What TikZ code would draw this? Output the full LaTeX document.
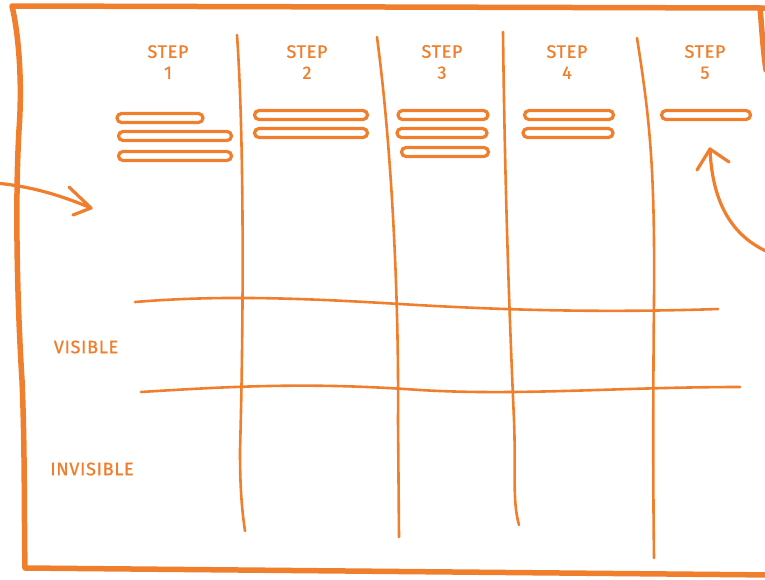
\documentclass[tikz,border=0pt]{standalone}
\usepackage{fontspec}
\setmainfont{Fira Sans}
\usetikzlibrary{arrows.meta}
\definecolor{org}{RGB}{239,127,45}
\tikzset{
  frame/.style={draw=org,line width=5.5pt,line join=round,line cap=round},
  grid/.style={draw=org,line width=2.6pt,line cap=round},
  loopbox/.style={draw=org,line width=3.2pt,rectangle,rounded corners=4.5pt,minimum height=9pt,inner sep=0pt},
  lbl/.style={text=org,font=\fontsize{18}{21}\selectfont\addfontfeature{LetterSpace=4,FakeBold=1},inner sep=0pt,align=center},
  arrowline/.style={draw=org,line width=3.2pt,line cap=round,line join=round}
}
\begin{document}
\begin{tikzpicture}[x=1pt,y=-1pt]
\useasboundingbox (0,0) rectangle (765,579);
% frame
\draw[frame] (775,8) -- (760,8) -- (12,6) .. controls (20,40) and (22,90) .. (19,130)
  .. controls (15,200) and (17,300) .. (22,380) .. controls (25,450) and (24,520) .. (25,568)
  -- (775,575);
\draw[frame] (760,8) .. controls (762,30) and (763,50) .. (766,70);
% vertical lines
\draw[grid] (237,35) .. controls (245,150) and (243,350) .. (240,450) .. controls (240,490) and (242,510) .. (245,531);
\draw[grid] (377,37) .. controls (392,150) and (399,300) .. (398,420) -- (399,537);
\draw[grid] (503,32) .. controls (505,200) and (510,330) .. (514,420) .. controls (516,470) and (512,500) .. (519,525);
\draw[grid] (637,38) .. controls (650,120) and (655,170) .. (654,300) .. controls (653,400) and (653,480) .. (654,558);
% horizontal lines
\draw[grid] (135,302) .. controls (220,295) and (300,298) .. (400,304) .. controls (500,310) and (600,313) .. (718,309);
\draw[grid] (141,392) .. controls (250,385) and (320,383) .. (420,390) .. controls (520,396) and (620,387) .. (740,387);
% step labels
\node[lbl] (s1) at (168,62) {STEP\\1};
\node[lbl] (s2) at (307,62) {STEP\\2};
\node[lbl] (s3) at (442,62) {STEP\\3};
\node[lbl] (s4) at (567,62) {STEP\\4};
\node[lbl] (s5) at (705,62) {STEP\\5};
\node[lbl] (vis) at (86,347) {VISIBLE};
\node[lbl] (invis) at (92,469) {INVISIBLE};
% loops
\node[loopbox,minimum width=86pt] (a1) at (160,118) {};
\node[loopbox,minimum width=113pt] (a2) at (175,136) {};
\node[loopbox,minimum width=113pt] (a3) at (175,156) {};
\node[loopbox,minimum width=113pt] (b1) at (311,115) {};
\node[loopbox,minimum width=113pt] (b2) at (311,133) {};
\node[loopbox,minimum width=90pt] (c1) at (443,115) {};
\node[loopbox,minimum width=90pt] (c2) at (442,133) {};
\node[loopbox,minimum width=87pt] (c3) at (445,152) {};
\node[loopbox,minimum width=89pt] (d1) at (569,115) {};
\node[loopbox,minimum width=90pt] (d2) at (568,133) {};
\node[loopbox,minimum width=89pt] (e1) at (706,115) {};
% left arrow
\coordinate (la0) at (-5,183);
\coordinate (la1) at (91,208);
\coordinate (lh1) at (69,187);
\coordinate (lh2) at (73,215);
\draw[arrowline] (la0) .. controls (30,186) and (60,195) .. (la1);
\draw[arrowline] (lh1) -- (la1) -- (lh2);
% right arrow
\coordinate (ra0) at (768,252);
\coordinate (ra1) at (710,149);
\coordinate (rh1) at (697,170);
\coordinate (rh2) at (729,162);
\draw[arrowline] (ra0) .. controls (730,235) and (712,200) .. (ra1);
\draw[arrowline] (rh1) -- (ra1) -- (rh2);
\end{tikzpicture}
\end{document}
